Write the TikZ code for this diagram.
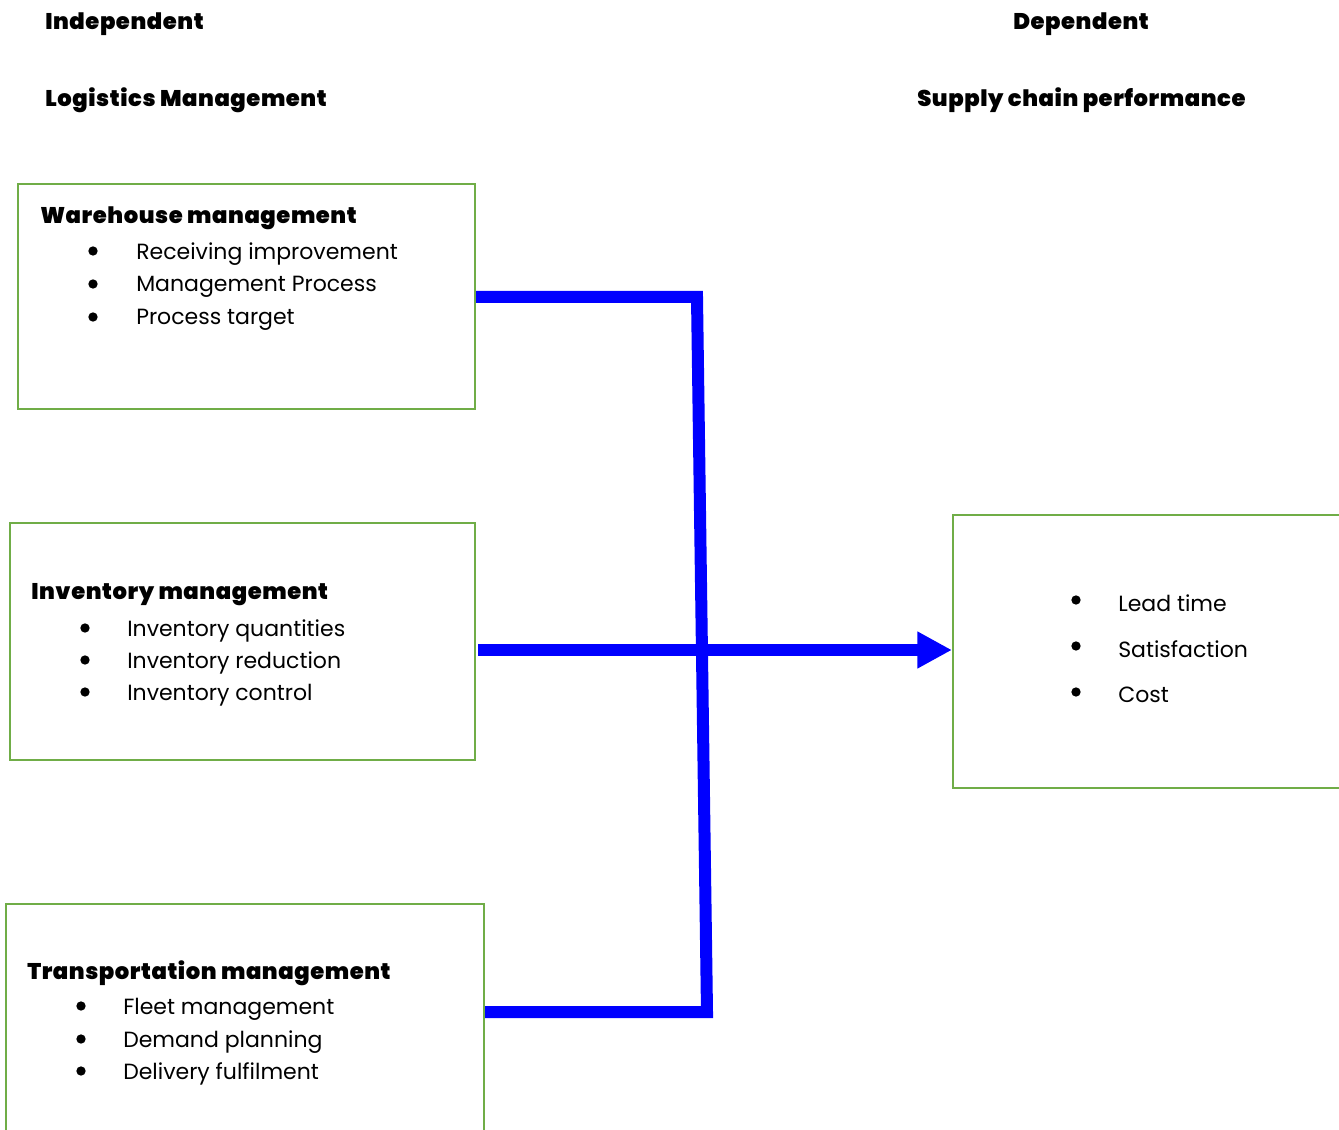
\documentclass[tikz,border=0pt]{standalone}
\usepackage{fontspec}
\setmainfont{Poppins}
\newfontfamily\headfont{Poppins Black}[LetterSpace=2.5]
\usetikzlibrary{arrows.meta}
\definecolor{boxgreen}{RGB}{112,173,71}
\definecolor{linkblue}{RGB}{0,0,255}
\begin{document}
\begin{tikzpicture}[x=0.75pt,y=-0.75pt,
  greenbox/.style={draw=boxgreen,line width=1.6pt,rectangle,inner sep=0pt},
  head/.style={anchor=west,inner sep=0pt,font=\headfont\fontsize{17}{20}\selectfont},
  item/.style={anchor=west,inner sep=0pt,font=\fontsize{16.5}{19}\selectfont},
  dot/.style={circle,fill=black,inner sep=0pt,minimum size=7pt},
  link/.style={draw=linkblue,line width=9pt,line join=miter}]
\useasboundingbox (0,0) rectangle (1339,1130);
\fill[white] (0,0) rectangle (1339,1130);
% headings
\node[head] (ind) at (45,24) {Independent};
\node[head] (log) at (45,100) {Logistics Management};
\node[head] (dep) at (1013,24) {Dependent};
\node[head] (scp) at (917,100) {Supply chain performance};
% boxes
\node[greenbox,minimum width=457*0.75pt,minimum height=225*0.75pt] (wh) at (246.5,296.5) {};
\node[greenbox,minimum width=465*0.75pt,minimum height=237*0.75pt] (inv) at (242.5,641.5) {};
\node[greenbox,minimum width=478*0.75pt,minimum height=240*0.75pt] (tr) at (245,1024) {};
\node[greenbox,minimum width=395*0.75pt,minimum height=273*0.75pt] (sc) at (1150.5,651.5) {};
% box 1 text
\node[head] (whT) at (40,218) {Warehouse management};
\node[dot] (wb1) at (93,251) {}; \node[item] (wi1) at (136,254) {Receiving improvement};
\node[dot] (wb2) at (93,284) {}; \node[item] (wi2) at (136,287) {Management Process};
\node[dot] (wb3) at (93,317) {}; \node[item] (wi3) at (136,320) {Process target};
% box 2 text
\node[head] (invT) at (31,595) {Inventory management};
\node[dot] (ib1) at (85,628) {}; \node[item] (ii1) at (127,631) {Inventory quantities};
\node[dot] (ib2) at (85,660) {}; \node[item] (ii2) at (127,663) {Inventory reduction};
\node[dot] (ib3) at (85,692) {}; \node[item] (ii3) at (127,695) {Inventory control};
% box 3 text
\node[head] (trT) at (27,973) {Transportation management};
\node[dot] (tb1) at (81,1006) {}; \node[item] (ti1) at (123,1009) {Fleet management};
\node[dot] (tb2) at (81,1039) {}; \node[item] (ti2) at (123,1042) {Demand planning};
\node[dot] (tb3) at (81,1071) {}; \node[item] (ti3) at (123,1074) {Delivery fulfilment};
% box 4 text
\node[dot] (sb1) at (1076,600) {}; \node[item] (si1) at (1118,603) {Lead time};
\node[dot] (sb2) at (1076,646) {}; \node[item] (si2) at (1118,649) {Satisfaction};
\node[dot] (sb3) at (1076,692) {}; \node[item] (si3) at (1118,695) {Cost};
% connectors
\coordinate (c1) at (697,297);
\coordinate (c2) at (707,1012);
\draw[link] (wh.east |- c1) -- (c1) -- (c2) -- (tr.east |- c2);
\draw[link,-{Triangle[length=26pt,width=26pt]}] (inv.east |- 0,650) ++(2,0) -- (sc.west |- 0,650);
\end{tikzpicture}
\end{document}
